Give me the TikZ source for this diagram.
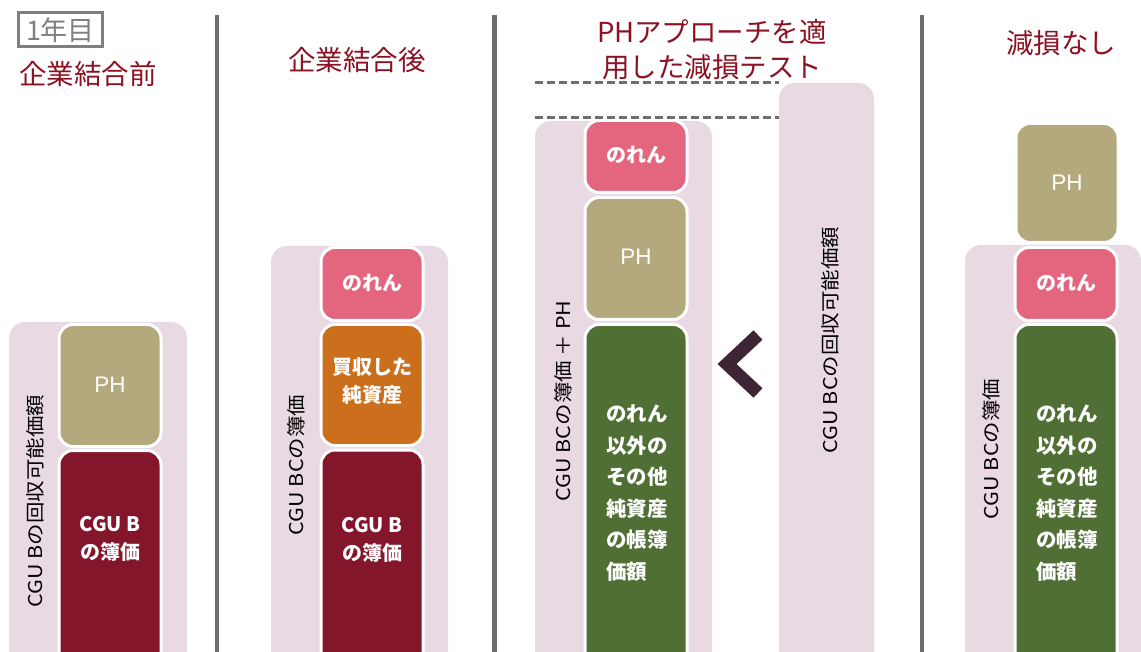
\documentclass[tikz,border=0pt]{standalone}
\usepackage{fontspec}
\setmainfont{Noto Sans CJK JP}
\newfontfamily\phfont{Liberation Sans}
\definecolor{bgpink}{HTML}{E8D9E3}
\definecolor{phc}{HTML}{B3A97C}
\definecolor{maroon}{HTML}{84162B}
\definecolor{pinkc}{HTML}{E3657E}
\definecolor{orangec}{HTML}{CC6F1D}
\definecolor{greenc}{HTML}{4F6F34}
\definecolor{chevc}{HTML}{3E2535}
\definecolor{sepc}{HTML}{6E6E6E}
\definecolor{titlec}{HTML}{8C1222}
\definecolor{graytxt}{HTML}{7F7F7F}
\begin{document}
\begin{tikzpicture}[x=1pt,y=-1pt,
  panel/.style={fill=bgpink, draw=none, rounded corners=16pt, inner sep=0pt, outer sep=0pt},
  blk/.style={draw=white, line width=3pt, rounded corners=14pt, inner sep=0pt, outer sep=0pt, minimum width=102pt},
  ttl/.style={text=titlec, font=\fontsize{27.5}{35}\selectfont, align=center, inner sep=0pt},
  wlbl/.style={text=white, font=\bfseries\fontsize{20}{28}\selectfont, align=center, inner sep=0pt},
  greentxt/.style={text=white, font=\bfseries\fontsize{20.5}{31.5}\selectfont, align=left, inner sep=0pt},
  phlbl/.style={text=white, font=\phfont\fontsize{22.5}{25}\selectfont, inner sep=0pt},
  vlbl/.style={text=black, font=\fontsize{19}{23}\selectfont, rotate=90, xscale=1.13, transform shape, inner sep=0pt},
  sep/.style={draw=sepc, line width=4.5pt},
  dashln/.style={draw=sepc, line width=3pt, dash pattern=on 8pt off 4pt},
  chev/.style={draw=chevc, line width=13pt, miter limit=10}]
\useasboundingbox (0,0) rectangle (1141,652);
\clip (0,0) rectangle (1141,652);

% ---------- panels ----------
\node[panel, minimum width=178pt, minimum height=378pt] (bg1) at (98,511) {};
\node[panel, minimum width=177pt, minimum height=454pt] (bg2) at (359.5,473) {};
\node[panel, minimum width=177pt, minimum height=579pt] (bg3) at (623.5,410.5) {};
\node[panel, minimum width=95pt, minimum height=617pt] (rr3) at (826.5,391.5) {};
\node[panel, minimum width=176pt, minimum height=455pt] (bg4) at (1053,472.5) {};

% ---------- column 1 ----------
\node[blk, fill=phc, minimum height=122pt] (ph1) at (110,385.5) {};
\node[blk, fill=maroon, minimum height=250pt] (cgu1) at (110,575.5) {};
\node[phlbl] (ph1t) at (110,385) {PH};
\node[wlbl] (cgu1t) at (110,539) {CGU B\\の簿価};
\node[vlbl] (v1) at (35,501) {CGU Bの回収可能価額};

% ---------- column 2 ----------
\node[blk, fill=pinkc, minimum height=73pt] (nr2) at (372,284) {};
\node[blk, fill=orangec, minimum height=121pt] (ac2) at (372,385) {};
\node[blk, fill=maroon, minimum height=250pt] (cgu2) at (372,575) {};
\node[wlbl] (nr2t) at (372,283) {のれん};
\node[wlbl] (ac2t) at (372,381) {買収した\\純資産};
\node[wlbl] (cgu2t) at (372,540) {CGU B\\の簿価};
\node[vlbl] (v2) at (296,465) {CGU BCの簿価};

% ---------- column 3 ----------
\node[blk, fill=pinkc, minimum height=72pt] (nr3) at (636,156.5) {};
\node[blk, fill=phc, minimum height=122pt] (ph3) at (636,258.5) {};
\node[blk, fill=greenc, minimum height=376pt] (gr3) at (636,512.5) {};
\node[wlbl] (nr3t) at (636,155) {のれん};
\node[phlbl] (ph3t) at (636,257) {PH};
\node[greentxt] (gr3t) at (637,493) {のれん\\以外の\\その他\\純資産\\の帳簿\\価額};
\node[vlbl] (v3) at (563,401) {CGU BCの簿価 ＋ PH};
\node[vlbl] (v3r) at (830,340) {CGU BCの回収可能価額};

\coordinate (dl1a) at (535,83);
\coordinate (dl1b) at (779,83);
\coordinate (dl2a) at (535,118);
\coordinate (dl2b) at (779,118);
\draw[dashln] (dl1a) -- (dl1b);
\draw[dashln] (dl2a) -- (dl2b);

\coordinate (chA) at (758,335);
\coordinate (chT) at (727,364);
\coordinate (chB) at (758,393);
\draw[chev] (chA) -- (chT) -- (chB);

% ---------- column 4 ----------
\node[blk, fill=phc, minimum height=119pt] (ph4) at (1067,183) {};
\node[blk, fill=pinkc, minimum height=73pt] (nr4) at (1066,284) {};
\node[blk, fill=greenc, minimum height=376pt] (gr4) at (1066,512.5) {};
\node[phlbl] (ph4t) at (1067,183) {PH};
\node[wlbl] (nr4t) at (1066,283) {のれん};
\node[greentxt] (gr4t) at (1067,493) {のれん\\以外の\\その他\\純資産\\の帳簿\\価額};
\node[vlbl] (v4) at (991,449) {CGU BCの簿価};

% ---------- titles ----------
\node[draw=graytxt, line width=3pt, text=graytxt, font=\fontsize{27}{30}\selectfont,
      minimum width=84pt, minimum height=34pt, inner sep=0pt] (yr) at (60.5,30) {1年目};
\node[ttl] (t1) at (88,74) {企業結合前};
\node[ttl] (t2) at (357,60) {企業結合後};
\node[ttl] (t3) at (712,50) {PHアプローチを適\\用した減損テスト};
\node[ttl] (t4) at (1061,43) {減損なし};

% ---------- separators ----------
\coordinate (s1a) at (217,15);
\coordinate (s1b) at (217,652);
\coordinate (s2a) at (494.5,15);
\coordinate (s2b) at (494.5,652);
\coordinate (s3a) at (922,15);
\coordinate (s3b) at (922,652);
\draw[sep] (s1a) -- (s1b);
\draw[sep] (s2a) -- (s2b);
\draw[sep] (s3a) -- (s3b);
\end{tikzpicture}
\end{document}
